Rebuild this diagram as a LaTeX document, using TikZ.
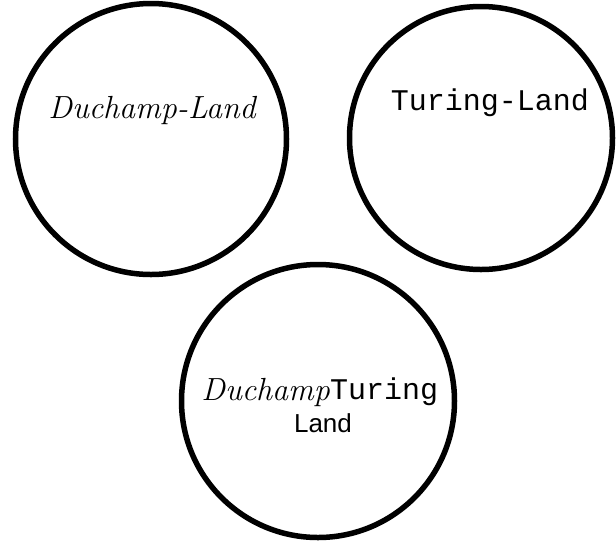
\documentclass[tikz,border=0pt]{standalone}
\usepackage{fontspec}
\setmainfont{Latin Modern Roman}
\newfontfamily\monofnt{Liberation Mono}
\newfontfamily\sansfnt{Liberation Sans}
\begin{document}
\begin{tikzpicture}[x=1pt,y=-1pt,
  land/.style={draw=black,line width=5.5pt,circle,inner sep=0pt},
  scriptlbl/.style={font=\fontsize{32}{36}\selectfont\itshape,inner sep=0pt},
  monolbl/.style={font=\fontsize{30}{34}\selectfont\monofnt,inner sep=0pt},
  sanslbl/.style={font=\fontsize{26}{30}\selectfont\sansfnt,inner sep=0pt}]
\useasboundingbox (0,0) rectangle (616,542);
\node[land,minimum size=271pt] (c1) at (151,139) {};
\node[land,minimum size=263pt] (c2) at (481,138) {};
\node[land,minimum size=273pt] (c3) at (318,401) {};
\node[scriptlbl] (t1) at (152,110) {Duchamp-Land};
\node[monolbl] (t2) at (490,103) {Turing-Land};
\node[scriptlbl,anchor=east] (t3a) at (330,392) {Duchamp};
\node[monolbl,anchor=west] (t3b) at (330,392) {Turing};
\node[sanslbl] (t3c) at (323,423) {Land};
\end{tikzpicture}
\end{document}
